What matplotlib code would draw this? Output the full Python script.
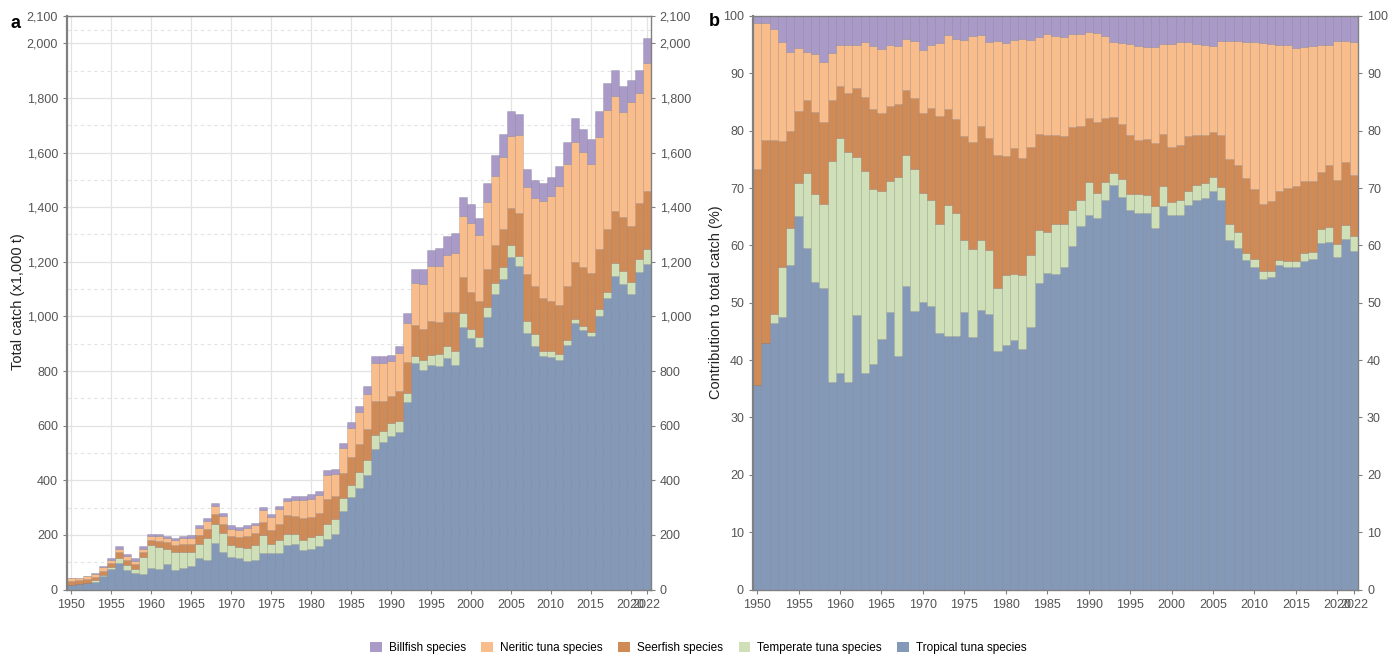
import numpy as np
import matplotlib
matplotlib.use("Agg")
import matplotlib.pyplot as plt
from matplotlib.patches import Patch
from matplotlib.ticker import FuncFormatter

plt.rcParams['font.family'] = ['Liberation Sans', 'DejaVu Sans']

years = np.arange(1950, 2023)

# total catch (x1,000 t)
total_catch = [
    43, 43, 50, 59, 86, 116, 160, 130, 114, 160,
    205, 205, 197, 190, 197, 199, 236, 263, 318, 281,
    236, 230, 236, 245, 303, 276, 307, 336, 344, 344,
    349, 362, 438, 442, 536, 612, 673, 744, 856, 856,
    860, 890, 1013, 1175, 1175, 1243, 1249, 1294, 1304, 1438,
    1413, 1362, 1487, 1591, 1668, 1752, 1741, 1540, 1500, 1490,
    1512, 1550, 1640, 1725, 1688, 1648, 1752, 1853, 1902, 1844,
    1866, 1902, 2018]

# upper edge of each stacked layer in panel b (%)
top_tropical = [
    35.7, 43.0, 46.5, 47.5, 56.6, 65.2, 59.6, 53.6, 52.5, 36.2,
    37.7, 36.2, 47.8, 37.7, 39.3, 43.6, 48.3, 40.8, 53.0, 48.6,
    50.1, 49.4, 44.7, 44.2, 44.2, 48.4, 44.0, 48.8, 48.0, 41.6,
    42.6, 43.5, 42.0, 45.8, 53.5, 55.2, 55.1, 56.3, 59.9, 63.3,
    65.3, 64.7, 67.9, 70.5, 68.5, 66.2, 65.6, 65.6, 63.0, 66.8,
    65.3, 65.3, 67.0, 68.0, 68.2, 69.4, 68.0, 60.9, 59.5, 57.4,
    56.3, 54.1, 54.5, 56.6, 56.3, 56.3, 57.2, 57.6, 60.4, 60.6,
    57.9, 61.2, 59.0]
top_temperate = [
    35.7, 43.0, 48.0, 56.3, 63.0, 70.8, 72.6, 69.0, 67.2, 74.8,
    78.8, 76.2, 75.4, 72.9, 69.9, 69.5, 71.3, 72.0, 75.8, 73.4,
    69.2, 68.0, 63.7, 67.0, 65.6, 61.0, 59.4, 61.0, 59.2, 52.5,
    54.8, 55.0, 54.8, 58.3, 62.7, 62.4, 63.8, 63.8, 66.2, 67.9,
    71.0, 69.2, 71.1, 72.7, 71.5, 69.0, 69.0, 68.8, 66.9, 70.4,
    67.6, 67.9, 69.5, 70.5, 70.8, 71.9, 70.2, 63.8, 62.4, 58.7,
    57.7, 55.6, 55.6, 57.4, 57.2, 57.2, 58.6, 58.8, 62.8, 63.2,
    60.3, 63.6, 61.7]
top_seerfish = [
    73.4, 78.3, 78.3, 78.2, 79.9, 83.4, 85.4, 83.3, 81.6, 85.4,
    87.8, 86.6, 87.4, 85.9, 83.8, 83.1, 84.3, 84.6, 87.1, 85.7,
    83.0, 83.9, 82.6, 83.8, 82.1, 79.0, 78.0, 80.8, 78.7, 75.8,
    75.6, 77.0, 75.3, 77.2, 79.5, 79.3, 79.2, 79.0, 80.6, 80.8,
    82.2, 81.6, 82.2, 82.4, 81.2, 79.2, 78.4, 78.5, 77.9, 79.5,
    77.2, 77.5, 79.0, 79.2, 79.2, 79.8, 79.2, 75.0, 74.0, 71.7,
    69.9, 67.3, 67.8, 69.5, 70.0, 70.3, 71.2, 71.2, 72.8, 74.0,
    71.4, 74.5, 72.3]
top_neritic = [
    98.7, 98.8, 97.7, 95.5, 93.7, 94.4, 93.8, 93.3, 92.0, 93.6,
    95.0, 95.0, 95.0, 95.4, 94.8, 94.3, 95.0, 94.8, 96.0, 95.6,
    94.0, 95.0, 95.3, 96.6, 96.0, 95.8, 96.5, 96.6, 95.4, 95.7,
    95.3, 95.8, 96.0, 95.8, 96.4, 96.8, 96.5, 96.3, 96.8, 96.9,
    97.2, 97.1, 96.5, 95.5, 95.3, 95.2, 94.7, 94.6, 94.6, 95.2,
    95.1, 95.4, 95.5, 95.2, 95.0, 94.8, 95.6, 95.6, 95.6, 95.5,
    95.4, 95.3, 95.1, 95.0, 95.0, 94.5, 94.6, 94.8, 95.0, 94.9,
    95.6, 95.6, 95.5]

# bottom -> top stacking order
stack_names = ["Tropical tuna species", "Temperate tuna species", "Seerfish species",
               "Neritic tuna species", "Billfish species"]
stack_colors = ["#8499b8", "#cfe0b8", "#d08a56", "#f9bd8c", "#a99ac8"]

edges = np.vstack([np.zeros(len(years)), top_tropical, top_temperate,
                   top_seerfish, top_neritic, np.full(len(years), 100.0)])
shares = np.diff(edges, axis=0)
catch = shares * np.array(total_catch) / 100.0

W, H = 1397, 657
fig = plt.figure(figsize=(W / 100, H / 100), dpi=100)
ax1 = fig.add_axes([67 / W, 1 - 589.5 / H, 583.7 / W, 573.5 / H])
ax2 = fig.add_axes([753 / W, 1 - 589.5 / H, 605 / W, 573.5 / H])

edge_col = (0.2, 0.2, 0.25, 0.18)
for ax, vals in ((ax1, catch), (ax2, shares)):
    bottom = np.zeros(len(years))
    for name, col, v in zip(stack_names, stack_colors, vals):
        ax.bar(years, v, bottom=bottom, width=1.0, color=col,
               edgecolor=edge_col, linewidth=0.6)
        bottom = bottom + v

xticks = list(range(1950, 2021, 5)) + [2022]
spine_col = "#808080"
for ax in (ax1, ax2):
    ax.set_xlim(1949.5, 2022.5)
    ax.set_xticks(xticks)
    ax.set_xticklabels([str(t) for t in xticks])
    for s in ax.spines.values():
        s.set_color(spine_col)
        s.set_linewidth(1.0)
    ax.spines['left'].set_linewidth(1.6)
    ax.tick_params(axis='both', which='major', colors=spine_col, labelcolor="#555555",
                   labelsize=9, length=3, width=0.8)
    ax.tick_params(axis='y', which='major', right=True, labelright=True)
    ax.tick_params(which='minor', length=0)
    ax.set_axisbelow(True)

ax1.set_ylim(0, 2100)
ax1.set_yticks(list(range(0, 2001, 200)) + [2100])
ax1.set_yticks(list(range(100, 2000, 200)) + [2050], minor=True)
ax1.yaxis.set_major_formatter(FuncFormatter(lambda v, p: f"{int(v):,}"))
ax1.grid(True, which='major', color="#e3e3e3", linewidth=0.9)
ax1.grid(True, which='minor', axis='y', color="#e3e3e3", linewidth=0.8, linestyle=(0, (3, 3)))

ax2.set_ylim(0, 100)
ax2.set_yticks(range(0, 101, 10))

fig.text(18 / W, 1 - 302 / H, "Total catch (x1,000 t)", rotation=90,
         ha='center', va='center', fontsize=10.5, color="#222222")
fig.text(716 / W, 1 - 302 / H, "Contribution to total catch (%)", rotation=90,
         ha='center', va='center', fontsize=10.5, color="#222222")
fig.text(15 / W, 1 - 24 / H, "a", fontsize=13, fontweight='bold', ha='center', va='center')
fig.text(714 / W, 1 - 21 / H, "b", fontsize=13, fontweight='bold', ha='center', va='center')

legend_order = ["Billfish species", "Neritic tuna species", "Seerfish species",
                "Temperate tuna species", "Tropical tuna species"]
handles = [Patch(facecolor=stack_colors[stack_names.index(n)], edgecolor='none')
           for n in legend_order]
fig.legend(handles, legend_order, loc='center', bbox_to_anchor=(0.5, 1 - 648 / H),
           ncol=5, frameon=False, fontsize=8.5, handlelength=1.0, handleheight=1.0,
           columnspacing=1.3, handletextpad=0.6)

fig.savefig("out.png", dpi=100)
